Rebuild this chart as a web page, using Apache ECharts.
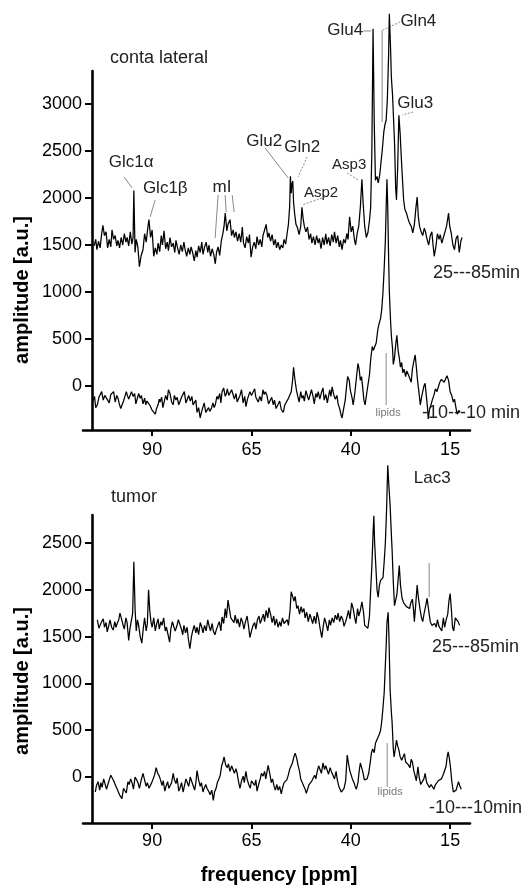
<!DOCTYPE html>
<html><head><meta charset="utf-8">
<script src="https://cdn.jsdelivr.net/npm/echarts@6/dist/echarts.min.js"></script>
<style>html,body{margin:0;padding:0;background:#fff}#c{width:521px;height:885px}</style>
</head><body><div id="c"></div>
<script>
// x axis (ppm) ticks
const xTicks = [90, 65, 40, 15];
const yTicksTop = [0, 500, 1000, 1500, 2000, 2500, 3000];
const yTicksBottom = [0, 500, 1000, 1500, 2000, 2500];

// contralateral, 25-85 min  [ppm, amplitude]
const contraLate = [[104.6,1490],[104.2,1560],[103.9,1450],[103.5,1540],[103.1,1470],[102.7,1620],[102.4,1710],[102.0,1600],[101.6,1640],[101.2,1470],[100.8,1560],[100.4,1480],[100.1,1660],[99.7,1560],[99.3,1600],[98.9,1490],[98.6,1550],[98.2,1470],[97.8,1580],[97.4,1500],[97.0,1620],[96.6,1530],[96.3,1580],[95.9,1490],[95.5,1640],[95.1,1510],[94.8,1580],[94.6,2080],[94.3,1420],[94.0,1560],[93.6,1480],[93.2,1270],[92.8,1380],[92.3,1450],[91.9,1620],[91.5,1530],[91.1,1680],[90.8,1770],[90.4,1580],[90.0,1660],[89.6,1380],[89.2,1470],[88.8,1400],[88.5,1520],[88.1,1430],[87.7,1600],[87.4,1500],[87.0,1650],[86.6,1460],[86.2,1530],[85.9,1440],[85.5,1580],[85.1,1480],[84.7,1520],[84.3,1420],[84.0,1550],[83.6,1470],[83.2,1400],[82.8,1500],[82.4,1430],[82.0,1530],[81.7,1450],[81.3,1380],[80.9,1470],[80.5,1400],[80.2,1480],[79.8,1420],[79.4,1330],[79.0,1440],[78.7,1370],[78.3,1490],[77.9,1420],[77.5,1530],[77.2,1400],[76.8,1480],[76.4,1530],[76.0,1420],[75.7,1500],[75.3,1380],[74.9,1460],[74.5,1400],[74.1,1300],[73.8,1420],[73.4,1480],[73.0,1390],[72.6,1540],[72.2,1620],[71.9,1700],[71.6,1840],[71.2,1650],[70.9,1720],[70.4,1770],[70.0,1600],[69.6,1660],[69.3,1580],[68.9,1640],[68.5,1540],[68.1,1620],[67.7,1530],[67.3,1690],[67.0,1520],[66.6,1470],[66.2,1590],[65.8,1520],[65.5,1610],[65.1,1370],[64.7,1480],[64.3,1530],[63.9,1460],[63.6,1590],[63.2,1500],[62.8,1560],[62.4,1480],[62.1,1600],[61.7,1660],[61.3,1720],[60.9,1580],[60.6,1630],[60.2,1540],[59.8,1610],[59.4,1500],[59.0,1560],[58.7,1470],[58.3,1530],[57.9,1450],[57.5,1500],[57.1,1470],[56.8,1560],[56.4,1510],[56.0,1630],[55.7,1720],[55.4,1900],[55.2,2230],[55.0,2050],[54.8,2150],[54.6,2180],[54.4,1950],[54.1,1820],[53.8,1720],[53.4,1680],[53.0,1610],[52.6,1700],[52.3,1900],[52.0,1780],[51.7,1700],[51.3,1640],[50.9,1690],[50.5,1560],[50.1,1620],[49.8,1520],[49.4,1590],[49.0,1500],[48.6,1600],[48.2,1520],[47.9,1570],[47.5,1460],[47.1,1580],[46.7,1500],[46.3,1620],[46.0,1510],[45.6,1580],[45.2,1490],[44.8,1610],[44.4,1530],[44.1,1640],[43.7,1520],[43.3,1600],[42.9,1480],[42.6,1550],[42.2,1450],[41.8,1560],[41.4,1520],[41.0,1620],[40.7,1560],[40.3,1800],[39.9,1640],[39.5,1700],[39.1,1560],[38.8,1500],[38.4,1620],[38.0,1700],[37.6,1900],[37.2,2200],[36.9,1950],[36.5,1700],[36.1,1580],[35.7,1630],[35.3,1760],[35.0,1900],[34.7,2500],[34.4,3800],[34.1,2800],[33.8,2190],[33.4,2230],[33.1,2160],[32.7,2250],[32.4,2380],[32.1,2500],[31.7,2700],[31.4,2780],[31.1,2830],[30.8,3050],[30.5,3500],[30.3,3960],[30.0,3600],[29.8,3290],[29.5,3100],[29.2,2800],[29.0,2600],[28.7,2100],[28.5,1980],[28.2,2330],[27.9,2880],[27.6,2700],[27.3,2440],[27.0,2200],[26.7,1980],[26.4,1880],[26.0,1840],[25.6,1780],[25.2,1730],[24.8,1700],[24.4,1630],[24.0,1720],[23.6,1900],[23.3,2010],[23.0,1800],[22.7,1700],[22.3,1640],[21.9,1600],[21.5,1680],[21.2,1640],[20.8,1560],[20.4,1500],[20.0,1600],[19.6,1640],[19.3,1500],[19.0,1380],[18.6,1480],[18.2,1620],[17.8,1560],[17.5,1610],[17.1,1520],[16.7,1580],[16.3,1640],[15.9,1700],[15.6,1780],[15.4,1840],[15.1,1700],[14.7,1620],[14.3,1500],[13.9,1450],[13.5,1570],[13.1,1600],[12.7,1420],[12.3,1540],[12.0,1580]];

// contralateral, -10-10 min
const contraEarly = [[104.9,-160],[104.5,-110],[104.2,-230],[103.8,-200],[103.4,-120],[103.1,-140],[102.7,-60],[102.3,-150],[101.9,-100],[101.6,-80],[101.2,-150],[100.8,-180],[100.4,-90],[100.1,-110],[99.7,-60],[99.3,-170],[98.9,-100],[98.6,-130],[98.2,-200],[97.9,-240],[97.6,-250],[97.2,-160],[96.8,-180],[96.5,-60],[96.3,-90],[95.9,-140],[95.5,-150],[95.2,-60],[94.8,-110],[94.4,-80],[94.1,-190],[93.8,-170],[93.4,-80],[93.0,-130],[92.7,-100],[92.3,-190],[91.9,-130],[91.6,-200],[91.3,-160],[90.9,-180],[90.5,-210],[90.1,-250],[89.6,-230],[89.2,-300],[88.9,-240],[88.5,-200],[88.2,-140],[88.0,-170],[87.6,-120],[87.3,-230],[87.0,-210],[86.6,-100],[86.2,-150],[85.9,-40],[85.5,-80],[85.1,-170],[84.7,-200],[84.4,-100],[84.0,-150],[83.7,-120],[83.3,-200],[83.0,-220],[82.6,-120],[82.2,-130],[81.9,-60],[81.5,-180],[81.2,-190],[80.8,-100],[80.4,-160],[80.0,-110],[79.7,-200],[79.4,-210],[79.0,-150],[78.7,-280],[78.3,-230],[77.9,-340],[77.6,-280],[77.2,-260],[76.9,-180],[76.5,-280],[76.2,-300],[75.8,-230],[75.5,-270],[75.1,-240],[74.7,-180],[74.4,-230],[74.1,-200],[73.7,-110],[73.4,-140],[73.0,-80],[72.7,-180],[72.4,-60],[72.0,-20],[71.6,-110],[71.3,-80],[71.1,-30],[70.7,-100],[70.4,-120],[70.0,-40],[69.6,-60],[69.3,-140],[68.9,-80],[68.6,-170],[68.2,-130],[67.9,-100],[67.5,-40],[67.1,-180],[66.7,-110],[66.4,-220],[66.0,-140],[65.8,-150],[65.4,-60],[65.0,-100],[64.6,-80],[64.2,-30],[63.9,-120],[63.6,-100],[63.3,-170],[62.9,-110],[62.5,-160],[62.1,-40],[61.8,-90],[61.5,-60],[61.1,-100],[60.7,-190],[60.3,-170],[59.9,-120],[59.5,-200],[59.2,-150],[58.8,-240],[58.3,-220],[57.9,-160],[57.5,-250],[57.0,-280],[56.6,-200],[56.2,-210],[55.8,-140],[55.4,-100],[55.0,-60],[54.7,40],[54.4,200],[54.1,80],[53.7,-40],[53.4,-100],[53.0,-170],[52.6,-60],[52.3,-130],[52.0,-100],[51.7,-160],[51.3,-50],[51.0,-60],[50.6,-150],[50.2,-130],[49.9,-40],[49.5,-110],[49.2,-190],[48.8,-80],[48.5,-120],[48.2,-60],[47.8,-140],[47.4,-70],[47.0,-20],[46.7,-150],[46.3,-90],[45.9,-180],[45.7,-130],[45.3,-40],[45.0,-110],[44.7,-10],[44.3,-90],[43.9,-140],[43.5,-100],[43.2,-190],[42.8,-240],[42.5,-300],[42.2,-340],[41.8,-240],[41.4,-150],[41.1,-20],[40.8,100],[40.4,60],[40.1,-50],[39.7,-120],[39.4,-200],[39.0,-80],[38.6,80],[38.2,240],[37.9,180],[37.6,60],[37.3,100],[37.0,-20],[36.7,-150],[36.4,-200],[36.0,-80],[35.6,-60],[35.3,120],[35.0,280],[34.6,420],[34.3,380],[33.9,360],[33.6,460],[33.2,600],[32.9,660],[32.5,720],[32.2,820],[31.9,1000],[31.6,1250],[31.3,1550],[31.1,1900],[30.9,2200],[30.7,1900],[30.5,1400],[30.3,1000],[30.0,700],[29.8,540],[29.5,400],[29.3,230],[29.0,300],[28.7,440],[28.4,540],[28.1,380],[27.8,300],[27.5,200],[27.2,250],[26.9,140],[26.6,180],[26.2,100],[25.9,160],[25.5,120],[25.1,100],[24.8,40],[24.5,180],[24.2,250],[23.8,330],[23.5,200],[23.2,60],[22.9,-50],[22.5,-200],[22.2,-120],[21.9,-60],[21.6,0],[21.3,30],[21.0,-100],[20.7,-230],[20.5,-350],[20.2,-250],[19.8,-200],[19.5,-150],[19.1,-100],[18.7,-30],[18.3,-60],[17.9,0],[17.6,40],[17.2,70],[16.8,90],[16.5,40],[16.1,80],[15.8,110],[15.4,60],[15.0,-60],[14.6,-100],[14.2,-170],[13.9,-140],[13.5,-240],[13.2,-300],[12.8,-260],[12.5,-280]];

// tumor, 25-85 min
const tumorLate = [[103.8,1680],[103.4,1590],[103.1,1570],[102.7,1660],[102.3,1690],[102.0,1600],[101.6,1650],[101.3,1550],[100.9,1620],[100.6,1680],[100.2,1600],[99.8,1570],[99.4,1660],[99.1,1600],[98.8,1640],[98.4,1680],[98.1,1750],[97.7,1690],[97.3,1620],[97.0,1580],[96.6,1700],[96.3,1650],[95.9,1460],[95.6,1580],[95.2,1600],[94.9,1750],[94.6,2300],[94.3,1800],[94.0,1560],[93.7,1680],[93.4,1620],[93.0,1500],[92.6,1430],[92.2,1600],[91.9,1700],[91.5,1560],[91.2,1640],[90.9,2000],[90.6,1780],[90.3,1660],[90.0,1600],[89.6,1700],[89.2,1560],[88.9,1630],[88.5,1690],[88.2,1580],[87.8,1660],[87.5,1620],[87.1,1700],[86.7,1560],[86.4,1600],[86.0,1520],[85.6,1440],[85.3,1580],[84.9,1660],[84.5,1600],[84.2,1560],[83.8,1610],[83.4,1680],[83.1,1660],[82.7,1590],[82.3,1520],[82.0,1620],[81.6,1540],[81.2,1600],[80.9,1480],[80.5,1370],[80.1,1500],[79.8,1560],[79.4,1620],[79.0,1540],[78.7,1600],[78.3,1520],[77.9,1650],[77.5,1600],[77.2,1540],[76.8,1620],[76.4,1560],[76.0,1680],[75.7,1620],[75.3,1560],[74.9,1640],[74.6,1560],[74.2,1520],[73.8,1580],[73.4,1600],[73.1,1660],[72.7,1560],[72.4,1710],[72.0,1640],[71.6,1800],[71.3,1700],[70.9,1890],[70.5,1780],[70.2,1700],[69.8,1720],[69.4,1650],[69.1,1730],[68.7,1640],[68.4,1690],[68.0,1600],[67.6,1700],[67.2,1650],[66.9,1580],[66.5,1660],[66.1,1720],[65.7,1600],[65.4,1490],[65.0,1560],[64.6,1620],[64.2,1650],[63.9,1580],[63.5,1680],[63.1,1720],[62.8,1640],[62.4,1690],[62.0,1740],[61.7,1660],[61.3,1780],[60.9,1700],[60.6,1810],[60.2,1740],[59.8,1650],[59.4,1720],[59.1,1620],[58.7,1690],[58.3,1600],[57.9,1660],[57.6,1610],[57.2,1700],[56.8,1640],[56.4,1620],[56.0,1680],[55.7,1620],[55.3,1780],[55.0,1980],[54.7,1960],[54.3,1880],[54.0,1930],[53.6,1800],[53.3,1830],[52.9,1740],[52.5,1820],[52.2,1760],[51.8,1800],[51.5,1700],[51.1,1760],[50.7,1660],[50.3,1740],[50.0,1700],[49.6,1640],[49.2,1720],[48.8,1640],[48.5,1760],[48.1,1690],[47.7,1580],[47.3,1490],[46.9,1620],[46.6,1700],[46.2,1640],[45.8,1560],[45.4,1680],[45.1,1620],[44.7,1700],[44.3,1650],[43.9,1730],[43.5,1680],[43.2,1750],[42.8,1660],[42.4,1720],[42.0,1680],[41.7,1610],[41.3,1660],[40.9,1720],[40.6,1780],[40.2,1690],[39.8,1860],[39.4,1800],[39.1,1720],[38.7,1640],[38.3,1800],[38.0,1720],[37.6,1780],[37.2,1870],[36.8,1760],[36.5,1620],[36.1,1600],[35.7,1590],[35.3,1720],[35.0,2000],[34.7,2250],[34.4,2600],[34.2,2790],[34.0,2500],[33.7,2250],[33.4,2000],[33.1,1920],[32.8,2050],[32.5,2100],[32.2,2080],[31.9,2130],[31.6,2300],[31.3,2500],[31.0,2850],[30.7,3330],[30.4,3100],[30.1,2900],[29.8,2600],[29.6,2420],[29.3,2080],[29.0,1830],[28.7,1850],[28.4,1950],[28.1,2100],[27.8,2260],[27.5,2050],[27.1,1910],[26.7,1860],[26.3,1880],[26.0,1820],[25.6,1840],[25.2,1800],[24.9,1860],[24.5,1900],[24.2,1780],[24.0,1660],[23.7,1820],[23.3,2050],[23.0,1920],[22.6,1800],[22.2,1700],[21.9,1660],[21.5,1760],[21.1,1840],[20.8,1910],[20.4,1780],[20.0,1660],[19.6,1620],[19.3,1600],[18.9,1640],[18.5,1600],[18.2,1680],[17.8,1610],[17.5,1620],[17.1,1560],[16.7,1700],[16.4,1600],[16.0,1680],[15.6,1740],[15.3,1880],[15.0,1960],[14.7,1800],[14.4,1600],[14.1,1560],[13.7,1700],[13.3,1680],[13.0,1660],[12.6,1620]];

// tumor, -10-10 min
const tumorEarly = [[104.3,-160],[104.0,-90],[103.6,-50],[103.2,-140],[102.9,-60],[102.6,-110],[102.2,-20],[101.8,-10],[101.5,-130],[101.1,-110],[100.8,-30],[100.4,20],[100.1,40],[99.7,-40],[99.3,-60],[98.9,-120],[98.6,-150],[98.2,-190],[97.9,-170],[97.6,-230],[97.2,-120],[96.8,-110],[96.5,-170],[96.1,-50],[95.8,-80],[95.4,-20],[95.0,-70],[94.7,-130],[94.3,0],[93.9,-30],[93.5,-70],[93.2,-120],[92.8,-40],[92.3,40],[91.9,20],[91.5,-100],[91.2,-60],[90.8,-120],[90.5,-140],[90.1,-60],[89.7,-70],[89.4,20],[89.0,100],[88.6,40],[88.2,10],[87.9,-30],[87.5,-90],[87.2,-40],[86.8,-150],[86.5,-100],[86.1,-50],[85.8,-120],[85.5,-140],[85.1,-60],[84.7,40],[84.4,-30],[84.0,-70],[83.7,-10],[83.3,-150],[83.0,-120],[82.6,-60],[82.2,-160],[81.9,-100],[81.5,-20],[81.2,-30],[80.8,-100],[80.4,0],[80.1,-40],[79.7,-60],[79.3,-140],[79.0,-60],[78.7,70],[78.3,-30],[77.9,-100],[77.6,-60],[77.2,-160],[76.9,-120],[76.5,-80],[76.2,-120],[75.8,-150],[75.4,-190],[75.0,-140],[74.6,-250],[74.3,-160],[73.9,-120],[73.6,-60],[73.2,-20],[72.9,10],[72.5,120],[72.2,160],[71.9,215],[71.5,130],[71.1,100],[70.8,140],[70.4,60],[70.0,120],[69.6,100],[69.3,40],[68.9,90],[68.6,40],[68.2,-60],[67.9,-120],[67.5,-40],[67.1,10],[66.8,-60],[66.4,60],[66.1,-20],[65.7,-80],[65.3,-120],[65.0,-40],[64.6,-60],[64.2,-90],[63.9,-30],[63.6,-150],[63.2,-80],[62.8,-20],[62.5,40],[62.1,10],[61.7,60],[61.4,-20],[61.0,80],[60.8,125],[60.4,40],[60.0,-60],[59.7,-20],[59.3,-100],[59.0,-140],[58.6,-80],[58.3,-140],[57.9,-100],[57.5,-180],[57.2,-120],[56.8,-60],[56.5,-60],[56.1,-30],[55.8,10],[55.4,80],[55.0,120],[54.7,150],[54.3,220],[54.0,255],[53.6,200],[53.3,130],[52.9,60],[52.6,-20],[52.2,-40],[51.8,-100],[51.5,-130],[51.2,-175],[50.8,-120],[50.5,-80],[50.2,-100],[49.8,-40],[49.5,-40],[49.1,20],[48.8,-20],[48.5,50],[48.1,120],[47.7,100],[47.4,40],[47.0,150],[46.6,80],[46.3,120],[46.0,80],[45.6,30],[45.2,100],[44.9,60],[44.4,40],[44.1,-20],[43.7,60],[43.4,-30],[43.0,-100],[42.7,-120],[42.4,-160],[42.0,-140],[41.7,-120],[41.3,-40],[40.9,235],[40.6,150],[40.2,60],[39.9,60],[39.6,-20],[39.2,-60],[38.9,-100],[38.6,-130],[38.2,-60],[37.9,60],[37.6,150],[37.2,90],[36.9,40],[36.6,-30],[36.3,-40],[35.9,-20],[35.5,40],[35.1,160],[34.8,260],[34.5,300],[34.1,260],[33.8,360],[33.5,390],[33.2,420],[32.8,460],[32.5,500],[32.2,600],[31.9,740],[31.6,900],[31.4,1100],[31.1,1400],[30.9,1650],[30.6,1760],[30.4,1500],[30.1,930],[29.8,700],[29.6,580],[29.3,300],[29.1,215],[28.8,300],[28.5,395],[28.2,330],[27.9,290],[27.6,220],[27.2,180],[26.9,200],[26.5,250],[26.2,160],[25.8,180],[25.5,130],[25.1,100],[24.8,190],[24.5,160],[24.1,60],[23.8,70],[23.5,-40],[23.1,110],[22.8,0],[22.4,-80],[22.0,-100],[21.6,-20],[21.3,40],[20.9,-60],[20.5,-50],[20.2,-110],[19.8,-80],[19.5,-100],[19.1,-130],[18.7,-80],[18.3,-70],[18.0,-40],[17.6,-60],[17.2,-20],[16.9,-10],[16.6,40],[16.3,40],[16.0,120],[15.8,200],[15.5,270],[15.2,200],[14.9,100],[14.6,-40],[14.2,-160],[13.9,-170],[13.5,-140],[13.2,-160],[12.9,-50],[12.6,-90],[12.2,-130]];

// peak annotations in data coordinates: label position and leader lines
const topLabels = [
  {t:'Glc1α', at:[95.3,2383], s:17}, {t:'Glc1β', at:[86.7,2107], s:17},
  {t:'mI', at:[72.4,2117], s:17}, {t:'Glu2', at:[61.8,2607], s:17},
  {t:'Gln2', at:[52.2,2543], s:17}, {t:'Asp2', at:[47.5,2054], s:15},
  {t:'Asp3', at:[40.4,2351], s:15}, {t:'Glu4', at:[41.4,3788], s:17},
  {t:'Gln4', at:[23.0,3884], s:17}, {t:'Glu3', at:[23.8,3011], s:17},
  {t:'lipids', at:[30.6,-287], s:11, c:'#777'}
];
const topLeaders = [
  [[97.05,2224],[95.03,2107]], [[89.24,1979],[90.5,1798]],
  [[73.39,2032],[74.14,1575]], [[71.63,2032],[71.37,1851]], [[69.86,2032],[69.36,1851]],
  [[61.56,2532],[55.77,2213]], [[50.99,2437],[53.25,2224],1], [[46.46,2011],[52.25,1926],1],
  [[40.92,2266],[38.15,2192],1], [[36.89,3777],[34.88,3777]],
  [[27.58,3873],[31.86,3788],1], [[32.11,3788],[32.11,2809]],
  [[24.31,2915],[27.07,2883],1], [[31.1,351],[31.1,-202]]
];
const bottomLabels = [
  {t:'Lac3', at:[19.5,3193], s:17}, {t:'lipids', at:[30.1,-160], s:11, c:'#777'}
];
const bottomLeaders = [
  [[20.28,2286],[20.28,1922]], [[30.85,363],[30.85,-107]]
];

const FONT = '"Liberation Sans", Arial, Helvetica, sans-serif';
const chart = echarts.init(document.getElementById('c'));

function xAxisCfg(idx, margin){
  return {
    type:'value', gridIndex: idx, min:10, max:107.4, inverse:true,
    axisLine:{show:true, onZero:false, lineStyle:{color:'#000', width:2.6}},
    axisTick:{show:true, length:6, lineStyle:{color:'#000', width:2}, customValues:xTicks},
    axisLabel:{show:true, margin:margin, color:'#000', fontSize:18, fontFamily:FONT, customValues:xTicks,
      formatter: v => String(v)},
    splitLine:{show:false}
  };
}
function yAxisCfg(idx, min, max, ticks){
  return {
    type:'value', gridIndex: idx, min:min, max:max, offset:-9,
    axisLine:{show:true, onZero:false, lineStyle:{color:'#000', width:2.6}},
    axisTick:{show:true, length:7, lineStyle:{color:'#000', width:2}, customValues:ticks},
    axisLabel:{show:true, margin:10, color:'#000', fontSize:18, fontFamily:FONT, customValues:ticks,
      formatter: v => String(v)},
    splitLine:{show:false}
  };
}
function trace(data, idx){
  return {type:'line', xAxisIndex:idx, yAxisIndex:idx, data:data, showSymbol:false,
    symbol:'none', clip:false, lineStyle:{color:'#000', width:1.25}, animation:false, silent:true};
}

chart.setOption({
  animation:false,
  backgroundColor:'#fff',
  grid:[
    {left:83, right:51, top:71, height:359},
    {left:83, right:51, top:515, height:308}
  ],
  xAxis:[xAxisCfg(0,11), xAxisCfg(1,9)],
  yAxis:[yAxisCfg(0,-468,3351,yTicksTop), yAxisCfg(1,-491,2799,yTicksBottom)],
  series:[trace(contraLate,0), trace(contraEarly,0), trace(tumorLate,1), trace(tumorEarly,1)]
});

const g = [];
function txt(x, y, t, size, color, opts){
  g.push(Object.assign({type:'text', x:x, y:y, silent:true, style:{text:t, fill:color||'#111',
    font: (opts&&opts.bold?'bold ':'') + size + 'px ' + FONT,
    textAlign:(opts&&opts.align)||'left', align:(opts&&opts.align)||'left',
    textVerticalAlign:'middle', verticalAlign:'middle'}}, (opts&&opts.extra)||{}));
}
function annotate(grid, labels, leaders){
  leaders.forEach(l => {
    const a = chart.convertToPixel({gridIndex:grid}, l[0]);
    const b = chart.convertToPixel({gridIndex:grid}, l[1]);
    g.push({type:'line', silent:true, shape:{x1:a[0], y1:a[1], x2:b[0], y2:b[1]},
      style:{stroke:'#8a8a8a', lineWidth:1, lineDash: l[2] ? [2,1.5] : null}});
  });
  labels.forEach(L => {
    const p = chart.convertToPixel({gridIndex:grid}, L.at);
    txt(p[0], p[1], L.t, L.s, L.c || '#222', {align:'center'});
  });
}
annotate(0, topLabels, topLeaders);
annotate(1, bottomLabels, bottomLeaders);

txt(110, 58, 'conta lateral', 18, '#222');
txt(111, 497, 'tumor', 18, '#222');
txt(433, 273, '25---85min', 18, '#222');
txt(422, 413, '-10---10 min', 18, '#222');
txt(432, 647, '25---85min', 18, '#222');
txt(429, 808, '-10---10min', 18, '#222');
txt(22, 290, 'amplitude [a.u.]', 20, '#000', {bold:true, align:'center', extra:{rotation:Math.PI/2}});
txt(22, 681, 'amplitude [a.u.]', 20, '#000', {bold:true, align:'center', extra:{rotation:Math.PI/2}});
txt(279, 875, 'frequency [ppm]', 20, '#000', {bold:true, align:'center'});

chart.setOption({graphic:{elements:g}});
</script>
</body></html>
